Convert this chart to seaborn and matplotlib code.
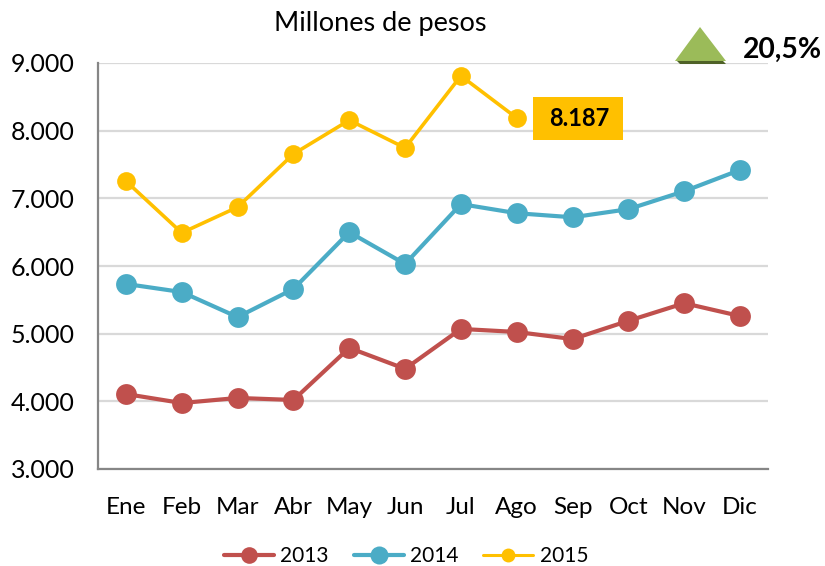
import matplotlib
matplotlib.use("Agg")
import matplotlib.pyplot as plt
from matplotlib.patches import Polygon
import seaborn as sns
import pandas as pd

months = ["Ene", "Feb", "Mar", "Abr", "May", "Jun", "Jul", "Ago", "Sep", "Oct", "Nov", "Dic"]
v2013 = [4108, 3975, 4050, 4020, 4790, 4480, 5070, 5025, 4920, 5190, 5450, 5260]
v2014 = [5735, 5615, 5245, 5660, 6500, 6030, 6915, 6780, 6720, 6840, 7105, 7420]
v2015 = [7255, 6490, 6870, 7655, 8155, 7745, 8810, 8187]
yticks = [3000, 4000, 5000, 6000, 7000, 8000, 9000]
ytick_labels = ["3.000", "4.000", "5.000", "6.000", "7.000", "8.000", "9.000"]

W, H = 825, 566

sns.set_theme(style="white")
plt.rcParams["font.family"] = ["Lato", "DejaVu Sans"]

rows = []
for year, vals in [("2013", v2013), ("2014", v2014), ("2015", v2015)]:
    for m, v in zip(months, vals):
        rows.append({"mes": m, "valor": v, "anio": year})
df = pd.DataFrame(rows)

colors = {"2013": "#C0504D", "2014": "#4BACC6", "2015": "#FFC000"}

fig = plt.figure(figsize=(W / 100, H / 100), dpi=100)
ax = fig.add_axes([98 / W, 1 - 469 / H, 670 / W, 406 / H])

ax.set_axisbelow(True)
ax.grid(axis="y", color="#D9D9D9", lw=1.6)
ax.grid(axis="x", visible=False)

# line widths and markers differ per year, so draw them one at a time
for year, lw, ms in [("2013", 3.0, 15), ("2014", 3.0, 15), ("2015", 2.6, 13.5)]:
    sns.lineplot(data=df[df["anio"] == year], x="mes", y="valor", color=colors[year],
                 lw=lw, marker="o", ms=ms, mew=0, ax=ax, label=year, sort=False,
                 errorbar=None, clip_on=False)

ax.set_xlim(-0.5, 11.5)
ax.set_ylim(3000, 9000)
ax.set_xticks(range(12))
ax.set_xticklabels(months)
ax.set_yticks(yticks)
ax.set_yticklabels(ytick_labels)
ax.set_xlabel("")
ax.set_ylabel("")
ax.tick_params(axis="x", length=0, pad=20, labelsize=17.5, labelcolor="#000000")
ax.tick_params(axis="y", length=0, pad=17, labelsize=18, labelcolor="#000000")

for side in ["top", "right"]:
    ax.spines[side].set_visible(False)
for side in ["left", "bottom"]:
    ax.spines[side].set_color("#868686")
    ax.spines[side].set_linewidth(1.6)

leg = ax.legend(loc="center", bbox_to_anchor=(406 / W, 1 - 556 / H),
                bbox_transform=fig.transFigure, ncol=3, frameon=False, fontsize=15,
                handlelength=2.4, columnspacing=1.2, handletextpad=0.3,
                labelcolor="#000000", borderpad=0)
# legend markers are smaller than the ones in the plot
for handle, ms, lw in zip(leg.legend_handles, [12, 13, 10], [3.0, 3.0, 2.2]):
    handle.set_markersize(ms)
    handle.set_linewidth(lw)

fig.text(380 / W, 1 - 23 / H, "Millones de pesos", ha="center", va="center",
         fontsize=19.5, color="#000000")

# value box next to the last 2015 point
fig.add_artist(plt.Rectangle((533 / W, 1 - 140 / H), 90 / W, 43 / H, fc="#FFC000", ec="none",
                             transform=fig.transFigure, zorder=4))
fig.text(579 / W, 1 - 119 / H, "8.187", ha="center", va="center", fontsize=17,
         fontweight="bold", color="#000000", zorder=5)

# up arrow
def px(points):
    return [(x / W, 1 - y / H) for x, y in points]

fig.add_artist(Polygon(px([(680, 64), (726, 64), (723, 61), (677, 61)]), closed=True,
                       fc="#4F6228", ec="none", transform=fig.transFigure, zorder=4))
fig.add_artist(Polygon(px([(700, 27), (726, 61), (675, 61)]), closed=True,
                       fc="#9BBB59", ec="none", transform=fig.transFigure, zorder=4))
fig.text(782 / W, 1 - 50 / H, "20,5%", ha="center", va="center", fontsize=20.3,
         fontweight="bold", color="#000000")

fig.savefig("out.png", dpi=100)
